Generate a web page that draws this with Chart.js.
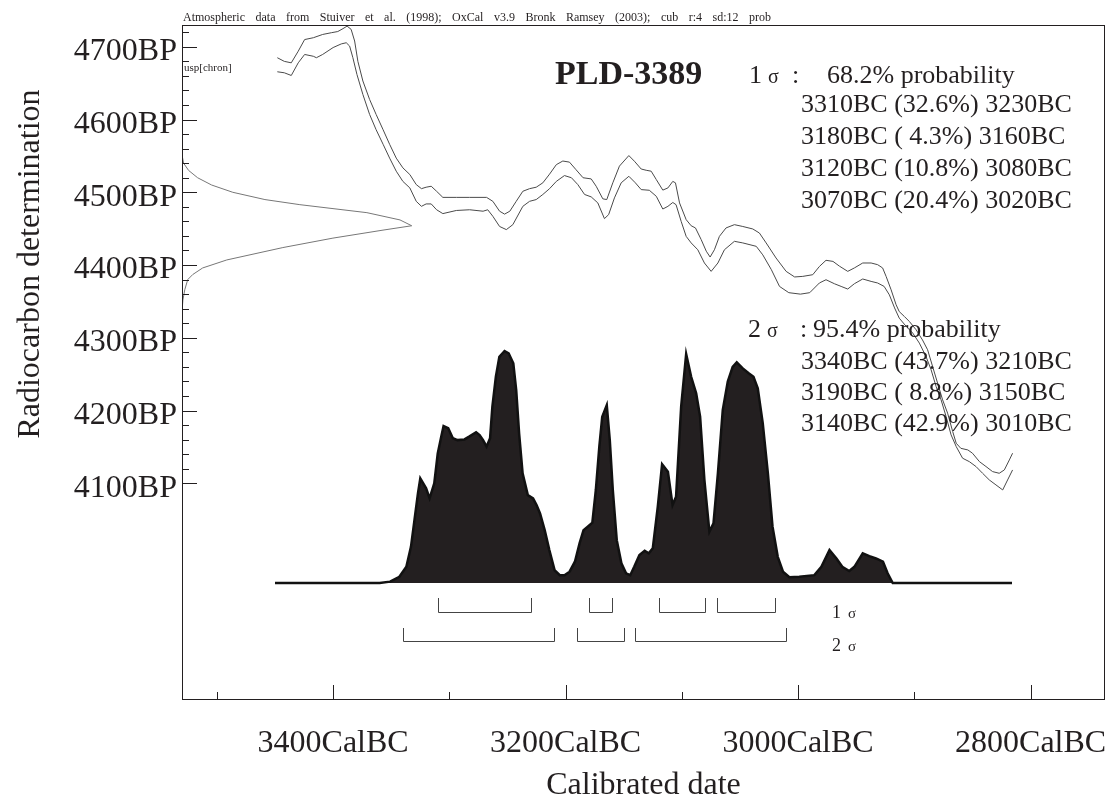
<!DOCTYPE html>
<html>
<head>
<meta charset="utf-8">
<script src="https://cdn.jsdelivr.net/npm/chart.js@4.4.1/dist/chart.umd.min.js"></script>
<style>
  html, body { margin: 0; background: #fff; }
  #wrap { width: 1115px; height: 805px; }
</style>
</head>
<body>
<div id="wrap"><canvas id="calChart"></canvas></div>
<script>
// PLD-3389 radiocarbon calibration plot (OxCal style)

// calibration curve, upper and lower envelope (calendar year BC, BP)
const upperYear = [3448, 3442, 3436, 3430, 3424.5, 3417, 3409, 3401.5, 3396, 3391.5, 3388, 3384.5, 3381.5, 3378.7, 3374.4, 3368.6, 3363, 3357, 3351.4, 3345.7, 3340, 3334, 3328.5, 3324, 3320, 3315.6, 3311, 3305.6, 3294, 3282.6, 3268, 3262.6, 3256.8, 3252.5, 3248, 3242.5, 3236.8, 3231, 3225.3, 3219.6, 3213.8, 3208, 3202.4, 3196.7, 3191, 3185, 3178, 3173.7, 3168, 3164.6, 3159.4, 3153.7, 3145.6, 3140.8, 3135, 3130.7, 3126.4, 3122, 3116.4, 3112, 3107.8, 3105.5, 3102, 3096.3, 3092, 3088.3, 3083.4, 3079, 3075.7, 3072, 3067.7, 3062, 3054.8, 3047.6, 3039, 3033.3, 3027.5, 3019, 3010.3, 3003, 2996, 2987.4, 2981.7, 2976, 2970, 2964.5, 2957.3, 2951.6, 2944.4, 2937.2, 2931.6, 2927.3, 2924.3, 2920, 2915.7, 2913, 2908.6, 2904.3, 2898.5, 2893, 2888.6, 2884.3, 2880, 2875.7, 2871.4, 2867, 2864, 2860, 2854, 2850, 2844, 2838.4, 2832.7, 2827, 2822.6, 2818.3, 2815.5];
const upperBP = [4685, 4680, 4678, 4694, 4710, 4712.5, 4717, 4719.4, 4721, 4725, 4728.5, 4724, 4708, 4680, 4653, 4627.6, 4607, 4586, 4566, 4547, 4533.6, 4524.4, 4510.6, 4505, 4507, 4508.3, 4501.4, 4493, 4493, 4493, 4493, 4487.6, 4474, 4470, 4474, 4487.6, 4501.4, 4505, 4507, 4513, 4525, 4538, 4543, 4541.5, 4531, 4520, 4518.4, 4508.3, 4491, 4490, 4513, 4536, 4550.5, 4542.7, 4532, 4530.3, 4529, 4517.5, 4503, 4506, 4515, 4513, 4485.4, 4462.4, 4454, 4451, 4435, 4419, 4411, 4421, 4439.4, 4451, 4455.5, 4453, 4449.6, 4444, 4430.4, 4409.7, 4391.3, 4383.6, 4384.4, 4386.7, 4398, 4406.5, 4405, 4398.5, 4391.3, 4396, 4402.8, 4402.8, 4400.5, 4396, 4384.4, 4366, 4345.4, 4336, 4329.3, 4322.4, 4311, 4297, 4283.5, 4260.5, 4237.6, 4214.7, 4196.4, 4171, 4155, 4148, 4145.8, 4141.3, 4129.7, 4123, 4116, 4113.7, 4118.3, 4132, 4141.3];
const lowerYear = [3448, 3442, 3436, 3430, 3424.5, 3417, 3414.4, 3409, 3400, 3393, 3388.7, 3385.8, 3383, 3379.5, 3374.4, 3368.6, 3363, 3357, 3351.4, 3345.7, 3340, 3334, 3328.5, 3324, 3320, 3315.6, 3311, 3305.6, 3294, 3282.6, 3271, 3267, 3262.6, 3256.8, 3251, 3245.4, 3236.8, 3231, 3225.3, 3219.6, 3213.8, 3208, 3201, 3195, 3189.5, 3183.7, 3178, 3172.3, 3166.6, 3163, 3158, 3152.2, 3145.6, 3140, 3135, 3128, 3122, 3116.4, 3112, 3107.8, 3105, 3100.6, 3096.3, 3092, 3086.3, 3080.6, 3074.8, 3069, 3063.4, 3054.8, 3047.6, 3036, 3030.4, 3023, 3016, 3008, 2998, 2990, 2981.7, 2976, 2968.8, 2963, 2957.3, 2951.6, 2944.4, 2937.2, 2931.6, 2926, 2921.5, 2917, 2913, 2907, 2901.4, 2895.7, 2890, 2885.6, 2881.3, 2877, 2872.7, 2868.4, 2864, 2858.5, 2852.7, 2847, 2841.3, 2835.5, 2829.8, 2824, 2819.8, 2815.5];
const lowerBP = [4665.7, 4664.3, 4660.6, 4678, 4689.5, 4687, 4685, 4689.5, 4699, 4704, 4705.6, 4701, 4685, 4662, 4634.5, 4607, 4586, 4566, 4547, 4529, 4515, 4506, 4487.6, 4480.7, 4484, 4484, 4476, 4470.7, 4475, 4476, 4474, 4476, 4467, 4453, 4448.7, 4455.5, 4480.7, 4487.6, 4490, 4497, 4505, 4515, 4523, 4520, 4510.6, 4497, 4493.7, 4485.4, 4463.8, 4469.3, 4492.3, 4513, 4522, 4513, 4503.7, 4502.8, 4494.5, 4477, 4480.7, 4486, 4483, 4460, 4439.4, 4430.4, 4421, 4402.8, 4391.3, 4402.8, 4421, 4432.6, 4430.4, 4425.7, 4414, 4393.6, 4370.6, 4362, 4360, 4362, 4375.3, 4379.8, 4374.3, 4370.6, 4367, 4374.3, 4380.8, 4377.5, 4375.3, 4370.6, 4359, 4341, 4327, 4315.6, 4306.5, 4292.7, 4274.3, 4256, 4233, 4214.7, 4191.7, 4166.5, 4150.4, 4134.4, 4129.7, 4123, 4113.7, 4104.5, 4097.7, 4090.8, 4104.5, 4118.3];

// radiocarbon determination (BP, relative probability)
const dateBP = [4556, 4550, 4540, 4530, 4520, 4510, 4500, 4490, 4483, 4472, 4462, 4454, 4448, 4437, 4424, 4407, 4396, 4387, 4380, 4366, 4352, 4340];
const dateProb = [0, 0.001, 0.007, 0.029, 0.068, 0.129, 0.221, 0.361, 0.513, 0.805, 0.949, 1.0, 0.875, 0.657, 0.439, 0.195, 0.090, 0.047, 0.025, 0.012, 0.004, 0.001];

// calibrated probability distribution (calendar year BC, relative probability)
const histYear = [3450, 3360, 3351, 3343, 3337, 3333, 3330, 3327, 3325, 3320, 3317, 3313, 3310, 3307, 3305, 3301, 3297, 3293, 3287, 3283, 3277, 3274, 3271, 3268, 3265, 3263, 3260, 3257, 3252.5, 3249, 3245, 3242.5, 3240, 3237, 3232.5, 3228, 3225, 3222, 3218, 3214, 3209.5, 3205, 3201, 3196.6, 3192, 3188, 3184.6, 3181, 3177, 3174, 3171, 3168.5, 3164.6, 3162, 3159.4, 3156, 3152, 3148, 3144.4, 3141, 3136.5, 3132, 3128.5, 3125, 3120.7, 3117, 3112, 3108, 3105, 3100.6, 3096.3, 3092, 3087.7, 3084.3, 3080.6, 3076.3, 3072.8, 3069, 3064.8, 3060.5, 3056.3, 3052.8, 3047.6, 3042.5, 3038.4, 3034.7, 3030.4, 3026, 3022, 3017.5, 3013, 3007.5, 2999, 2986, 2980, 2973, 2967, 2962, 2956, 2951.6, 2944.4, 2938.7, 2933, 2927, 2923, 2918.6, 2816];
const histProb = [0, 0, 0.006, 0.027, 0.070, 0.157, 0.272, 0.387, 0.451, 0.408, 0.365, 0.430, 0.559, 0.631, 0.677, 0.667, 0.624, 0.616, 0.619, 0.631, 0.650, 0.638, 0.616, 0.588, 0.624, 0.760, 0.889, 0.975, 1.0, 0.990, 0.947, 0.832, 0.645, 0.473, 0.379, 0.365, 0.336, 0.300, 0.228, 0.142, 0.056, 0.034, 0.034, 0.049, 0.092, 0.171, 0.228, 0.243, 0.260, 0.401, 0.588, 0.717, 0.767, 0.616, 0.401, 0.185, 0.085, 0.042, 0.034, 0.070, 0.121, 0.139, 0.128, 0.150, 0.329, 0.512, 0.480, 0.336, 0.372, 0.760, 0.987, 0.889, 0.818, 0.717, 0.444, 0.221, 0.257, 0.473, 0.746, 0.868, 0.932, 0.951, 0.925, 0.904, 0.889, 0.839, 0.688, 0.473, 0.243, 0.113, 0.049, 0.025, 0.027, 0.034, 0.070, 0.142, 0.106, 0.070, 0.052, 0.070, 0.128, 0.116, 0.106, 0.092, 0.042, 0, 0];

// calibrated ranges [from BC, to BC]
const sigma1Ranges = [[3310, 3230], [3180, 3160], [3120, 3080], [3070, 3020]];
const sigma2Ranges = [[3340, 3210], [3190, 3150], [3140, 3010]];
const sigma1Pct = ['32.6%', ' 4.3%', '10.8%', '20.4%'];
const sigma2Pct = ['43.7%', ' 8.8%', '42.9%'];

// axes
const yLabelValues = [4100, 4200, 4300, 4400, 4500, 4600, 4700];
const yMarkValues = [4100, 4120, 4140, 4160, 4180, 4200, 4220, 4240, 4260, 4280, 4300, 4320, 4340, 4360, 4380, 4400, 4420, 4440, 4460, 4480, 4500, 4520, 4540, 4560, 4580, 4600, 4620, 4640, 4660, 4680, 4700, 4720];
const xLabelValues = [3400, 3200, 3000, 2800];
const xMarkValues = [3500, 3400, 3300, 3200, 3100, 3000, 2900, 2800];

const SERIF = '"Liberation Serif", "Times New Roman", serif';
const INK = '#231f20';

const toPoints = (xs, ys) => xs.map((x, i) => ({ x, y: ys[i] }));

const oxcalDecor = {
  id: 'oxcalDecor',
  afterDatasetsDraw(chart) {
    const { ctx, chartArea: a, scales } = chart;
    const x = scales.x, y = scales.y;
    ctx.save();
    ctx.strokeStyle = INK;
    ctx.lineWidth = 1;

    // frame
    ctx.strokeRect(a.left + 0.5, a.top + 0.5, a.right - a.left - 1, a.bottom - a.top - 1);

    // inward tick marks
    ctx.beginPath();
    yMarkValues.forEach(v => {
      const p = Math.round(y.getPixelForValue(v)) + 0.5;
      ctx.moveTo(a.left, p);
      ctx.lineTo(a.left + (v % 100 === 0 ? 15 : 7), p);
    });
    xMarkValues.forEach(v => {
      const p = Math.round(x.getPixelForValue(v)) + 0.5;
      ctx.moveTo(p, a.bottom);
      ctx.lineTo(p, a.bottom - (v % 200 === 0 ? 15 : 8));
    });
    ctx.stroke();

    // range brackets
    ctx.strokeStyle = '#444';
    const bracket = (r, top, bottom) => {
      const x1 = Math.round(x.getPixelForValue(r[0])) + 0.5;
      const x2 = Math.round(x.getPixelForValue(r[1])) + 0.5;
      ctx.beginPath();
      ctx.moveTo(x1, top); ctx.lineTo(x1, bottom + 0.5); ctx.lineTo(x2, bottom + 0.5); ctx.lineTo(x2, top);
      ctx.stroke();
    };
    sigma1Ranges.forEach(r => bracket(r, 598, 612));
    sigma2Ranges.forEach(r => bracket(r, 628, 641));

    ctx.fillStyle = INK;
    ctx.textBaseline = 'alphabetic';
    ctx.textAlign = 'left';

    // header line, words spread out
    const header = 'Atmospheric data from Stuiver et al. (1998); OxCal v3.9 Bronk Ramsey (2003); cub r:4 sd:12 prob';
    ctx.font = '12px ' + SERIF;
    let hx = 183;
    header.split(' ').forEach(w => { ctx.fillText(w, hx, 21); hx += ctx.measureText(w).width + 10.5; });

    ctx.font = '11px ' + SERIF;
    ctx.fillText('usp[chron]', 184, 71);

    // sample name and ranges
    ctx.font = 'bold 34px ' + SERIF;
    ctx.fillText('PLD-3389', 555, 84);

    const sigmaHead = (n, sx, colonX, pctX, text, base) => {
      ctx.font = '26px ' + SERIF;
      ctx.fillText(n, sx, base);
      ctx.font = '20px ' + SERIF;
      ctx.fillText('σ', sx + 19, base);
      ctx.font = '26px ' + SERIF;
      ctx.fillText(':', colonX, base);
      ctx.fillText(text, pctX, base);
    };
    sigmaHead('1', 749, 792, 827, '68.2% probability', 83);
    sigma1Ranges.forEach((r, i) => {
      ctx.fillText(r[0] + 'BC (' + sigma1Pct[i] + ') ' + r[1] + 'BC', 801, 112 + i * 32);
    });
    sigmaHead('2', 748, 800, 813, '95.4% probability', 337);
    sigma2Ranges.forEach((r, i) => {
      ctx.fillText(r[0] + 'BC (' + sigma2Pct[i] + ') ' + r[1] + 'BC', 801, 369 + i * 31);
    });

    // bracket labels
    [['1', 618], ['2', 651]].forEach(([n, b]) => {
      ctx.font = '18px ' + SERIF;
      ctx.fillText(n, 832, b);
      ctx.font = '15px ' + SERIF;
      ctx.fillText('σ', 848, b);
    });

    // axis titles
    ctx.font = '32px ' + SERIF;
    ctx.textAlign = 'center';
    ctx.textBaseline = 'middle';
    ctx.fillText('Calibrated date', (a.left + a.right) / 2, 786);
    ctx.translate(31, 264);
    ctx.rotate(-Math.PI / 2);
    ctx.fillText('Radiocarbon determination', 0, 0);
    ctx.restore();
  }
};

new Chart(document.getElementById('calChart'), {
  type: 'scatter',
  data: {
    datasets: [
      {
        label: 'Calibrated date',
        data: toPoints(histYear, histProb),
        xAxisID: 'x', yAxisID: 'yp',
        showLine: true, fill: 'origin',
        backgroundColor: INK, borderColor: '#111', borderWidth: 2.5,
        pointRadius: 0, tension: 0,
      },
      {
        label: 'Curve upper',
        data: toPoints(upperYear, upperBP),
        xAxisID: 'x', yAxisID: 'y',
        showLine: true, borderColor: '#4a4a4a', borderWidth: 1, pointRadius: 0,
      },
      {
        label: 'Curve lower',
        data: toPoints(lowerYear, lowerBP),
        xAxisID: 'x', yAxisID: 'y',
        showLine: true, borderColor: '#4a4a4a', borderWidth: 1, pointRadius: 0,
      },
      {
        label: 'Radiocarbon date',
        data: toPoints(dateProb, dateBP),
        xAxisID: 'xd', yAxisID: 'y',
        showLine: true, borderColor: '#777', borderWidth: 1, pointRadius: 0,
      },
    ],
  },
  options: {
    responsive: true,
    maintainAspectRatio: false,
    animation: false,
    devicePixelRatio: 1,
    layout: { padding: { top: 25, right: 10, left: 0, bottom: 0 } },
    plugins: { legend: { display: false }, tooltip: { enabled: false } },
    scales: {
      x: {
        type: 'linear', position: 'bottom', reverse: true,
        min: 2736, max: 3530,
        grid: { display: false, drawTicks: false }, border: { display: false },
        afterBuildTicks: s => { s.ticks = xLabelValues.map(v => ({ value: v })); },
        afterFit: s => { s.height = 105; s.paddingLeft = 0; s.paddingRight = 0; },
        ticks: {
          autoSkip: false, maxRotation: 0, padding: 24,
          color: INK, font: { family: SERIF, size: 32 },
          callback: v => v + 'CalBC',
        },
      },
      y: {
        type: 'linear', position: 'left',
        min: 3802, max: 4730,
        grid: { display: false, drawTicks: false }, border: { display: false },
        afterBuildTicks: s => { s.ticks = yLabelValues.map(v => ({ value: v })); },
        afterFit: s => { s.width = 182; s.paddingTop = 0; s.paddingBottom = 0; },
        ticks: {
          autoSkip: false, padding: 5, labelOffset: 5,
          color: INK, font: { family: SERIF, size: 32 },
          callback: v => v + 'BP',
        },
      },
      yp: { type: 'linear', display: false, min: -0.504, max: 2.405 },
      xd: { type: 'linear', display: false, min: 0, max: 4.018 },
    },
  },
  plugins: [oxcalDecor],
});
</script>
</body>
</html>
